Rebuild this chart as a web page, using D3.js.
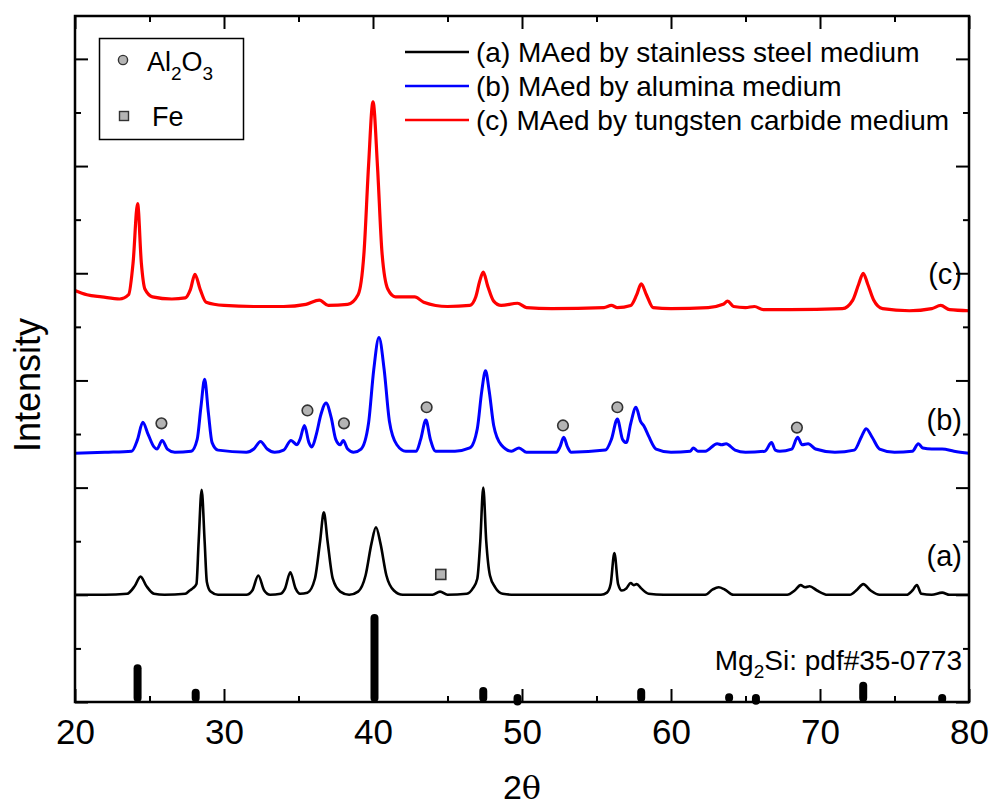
<!DOCTYPE html>
<html>
<head>
<meta charset="utf-8">
<script src="https://cdn.jsdelivr.net/npm/d3@7/dist/d3.min.js"></script>
<style>
  body { margin: 0; background: #fff; }
  text { font-family: "Liberation Sans", Arial, sans-serif; fill: #000; }
</style>
</head>
<body>
<svg id="chart" width="990" height="809"></svg>
<script>
// 2theta, intensity (arbitrary units, pattern offsets included)
var traceA = [[20,100],[22,100],[23.5,101],[24.0,108],[24.4,117],[24.8,108],[25.3,101],[26,100],[27.4,101],[27.7,104],[27.9,106],[28.15,110],[28.3,150],[28.5,198],[28.7,150],[28.85,112],[29.1,103],[29.6,100],[31.5,100],[31.9,104],[32.3,118],[32.7,104],[33.1,100],[33.8,101],[34.1,106],[34.45,121],[34.8,106],[35.1,101],[35.6,102],[36.1,115],[36.45,150],[36.7,177],[36.95,150],[37.3,115],[37.8,103],[38.4,100],[39.0,103],[39.5,118],[39.9,148],[40.2,163],[40.5,148],[40.9,118],[41.4,104],[42.0,100],[44.0,100],[44.5,103],[45.0,100],[46.3,101],[46.7,106],[47.0,115],[47.2,150],[47.4,200],[47.6,150],[47.85,118],[48.2,107],[48.7,101],[49.5,100],[55.3,100],[55.7,102],[55.95,110],[56.2,139],[56.45,110],[56.7,104],[57.0,106],[57.3,111],[57.5,109],[57.7,110],[58.0,106],[58.5,101],[59.5,100],[62.3,100],[62.8,105],[63.2,107],[63.6,105],[64.2,100],[67.8,100],[68.3,104],[68.7,109],[69.0,107],[69.3,108],[69.8,104],[70.5,100],[72.0,100],[72.5,105],[72.9,110],[73.4,104],[74.0,100],[75.8,100],[76.2,104],[76.5,109],[76.8,101],[77.5,100],[78.2,102],[78.7,100],[80,100]];

var traceB = [[20,232],[22,233],[23.8,234],[24.2,245],[24.55,261],[24.9,250],[25.3,238],[25.5,236],[25.85,244],[26.2,236],[26.7,233],[27.8,234],[28.2,245],[28.45,275],[28.7,301],[28.95,270],[29.2,242],[29.6,235],[31.5,233],[32.0,236],[32.45,243],[32.9,236],[33.4,233],[34.0,235],[34.5,244],[34.9,240],[35.1,245],[35.4,258],[35.7,242],[35.9,238],[36.2,250],[36.5,268],[36.85,279],[37.2,265],[37.5,245],[37.8,240],[38.0,244],[38.3,236],[38.7,233],[39.2,236],[39.7,260],[40.05,310],[40.4,340],[40.75,310],[41.1,262],[41.6,240],[42.2,234],[42.9,234],[43.2,245],[43.55,263],[43.85,245],[44.2,234],[45.5,234],[46.5,237],[47.0,255],[47.3,290],[47.55,309],[47.8,290],[48.1,258],[48.6,240],[49.3,234],[49.8,237],[50.3,233],[52.3,233],[52.55,238],[52.8,247],[53.05,238],[53.3,233],[55.6,235],[56.0,245],[56.4,264],[56.75,245],[57.0,242],[57.3,260],[57.65,275],[57.95,262],[58.2,257],[58.5,248],[59.0,236],[60.0,233],[61.3,234],[61.5,237],[61.8,234],[62.3,234],[63.1,241],[63.4,240],[63.7,241],[64.3,235],[65.0,233],[66.3,234],[66.75,242],[67.0,235],[67.3,234],[68.1,236],[68.5,247],[68.8,240],[69.2,241],[69.7,236],[71.0,233],[72.3,235],[72.8,248],[73.1,255],[73.5,247],[74.0,236],[75.0,233],[76.2,234],[76.6,241],[76.9,237],[77.5,236],[78.2,236],[79.0,234],[80,232]];

var traceC = [[20,384],[20.8,380],[21.8,378],[23.0,376],[23.6,380],[23.9,410],[24.2,465],[24.45,410],[24.7,385],[25.2,378],[26.5,376],[27.4,377],[27.75,385],[28.05,399],[28.4,385],[28.8,373],[30,370],[32,369],[34,369],[35.5,371],[36.4,375],[37.0,370],[38.3,371],[39.0,380],[39.4,420],[39.7,500],[40.0,560],[40.3,500],[40.6,420],[41.0,385],[41.5,378],[42.8,378],[43.4,373],[45.0,369],[46.5,370],[46.9,378],[47.15,392],[47.4,401],[47.7,388],[48.1,374],[48.6,370],[49.7,372],[50.3,368],[52,367],[55.5,368],[56.0,370],[56.4,368],[57.3,370],[57.7,380],[58.0,390],[58.35,380],[58.8,368],[60,367],[62.5,368],[63.5,371],[63.8,374],[64.2,369],[65.0,368],[65.6,369],[66.2,366],[68,366],[71.5,367],[72.2,375],[72.6,390],[72.9,400],[73.2,390],[73.6,375],[74.2,367],[76,365],[77.5,367],[78.1,370],[78.7,366],[80,365]];

// Mg2Si pdf#35-0773 reference lines: 2theta, relative intensity
var stickPos = [24.2, 28.1, 40.1, 47.4, 49.7, 58.0, 63.9, 65.7, 72.9, 78.2];
var stickRel = [43, 15, 100, 17, 5, 16, 10, 6, 23, 8];

// phase markers
var al2o3Marks = [[25.8,260],[35.6,272],[38.05,260],[43.6,275],[52.75,258],[56.4,275],[68.45,256]];
var feMarks = [[44.55,119]];

var xTicks = [20, 30, 40, 50, 60, 70, 80];
var seriesNames = ["(a) MAed by stainless steel medium", "(b) MAed by alumina medium", "(c) MAed by tungsten carbide medium"];
var seriesColors = ["#000000", "#0000ff", "#ff0000"];
var curveLabels = ["(a)", "(b)", "(c)"];
var curveLabelY = [566, 430, 284];

var svg = d3.select("#chart");
var pL = 75, pR = 969, pT = 16, pB = 702;

var x = d3.scaleLinear().domain([20, 80]).range([pL, pR]);
var y = d3.scaleLinear().domain([0, 640]).range([pB, pT]);
var yStick = d3.scaleLinear().domain([0, 100]).range([pB, pB - 88]);

var line = d3.line()
    .x(function (d) { return x(d[0]); })
    .y(function (d) { return y(d[1]); })
    .curve(d3.curveMonotoneX);

// sticks
svg.append("g").selectAll("line")
    .data(stickPos)
    .enter().append("line")
    .attr("x1", function (d) { return x(d); })
    .attr("x2", function (d) { return x(d); })
    .attr("y1", pB - 4)
    .attr("y2", function (d, i) { return yStick(stickRel[i]) + 4; })
    .attr("stroke", "#000")
    .attr("stroke-width", 8)
    .attr("stroke-linecap", "round");

// traces
var traces = [traceA, traceB, traceC];
var widths = [2.6, 3, 3.2];
svg.append("g").selectAll("path")
    .data(traces)
    .enter().append("path")
    .attr("d", line)
    .attr("fill", "none")
    .attr("stroke", function (d, i) { return seriesColors[i]; })
    .attr("stroke-width", function (d, i) { return widths[i]; })
    .attr("stroke-linejoin", "round");

// markers
svg.append("g").selectAll("circle")
    .data(al2o3Marks)
    .enter().append("circle")
    .attr("cx", function (d) { return x(d[0]); })
    .attr("cy", function (d) { return y(d[1]); })
    .attr("r", 5.3)
    .attr("fill", "#b4b4b4")
    .attr("stroke", "#333")
    .attr("stroke-width", 1.6);

svg.append("g").selectAll("rect")
    .data(feMarks)
    .enter().append("rect")
    .attr("x", function (d) { return x(d[0]) - 5; })
    .attr("y", function (d) { return y(d[1]) - 5; })
    .attr("width", 10)
    .attr("height", 10)
    .attr("fill", "#b4b4b4")
    .attr("stroke", "#333")
    .attr("stroke-width", 1.6);

// axes
var tickLen = 13, minorLen = 6;
var xMinor = d3.range(25, 80, 10);
var gx = svg.append("g").attr("transform", "translate(0," + pB + ")")
    .call(d3.axisBottom(x).tickValues(xTicks).tickSizeInner(-tickLen).tickSizeOuter(0).tickPadding(17).tickFormat(d3.format("d")));
svg.append("g").attr("transform", "translate(0," + pB + ")")
    .call(d3.axisBottom(x).tickValues(xMinor).tickSizeInner(-minorLen).tickSizeOuter(0).tickFormat(""));
svg.append("g").attr("transform", "translate(0," + pT + ")")
    .call(d3.axisTop(x).tickValues(xTicks).tickSizeInner(-tickLen).tickSizeOuter(0).tickFormat(""));
svg.append("g").attr("transform", "translate(0," + pT + ")")
    .call(d3.axisTop(x).tickValues(xMinor).tickSizeInner(-minorLen).tickSizeOuter(0).tickFormat(""));

var yMajor = d3.range(0, 641, 100), yMinor = d3.range(50, 641, 100);
svg.append("g").attr("transform", "translate(" + pL + ",0)")
    .call(d3.axisLeft(y).tickValues(yMajor).tickSizeInner(-tickLen).tickSizeOuter(0).tickFormat(""));
svg.append("g").attr("transform", "translate(" + pL + ",0)")
    .call(d3.axisLeft(y).tickValues(yMinor).tickSizeInner(-minorLen).tickSizeOuter(0).tickFormat(""));
svg.append("g").attr("transform", "translate(" + pR + ",0)")
    .call(d3.axisRight(y).tickValues(yMajor).tickSizeInner(-tickLen).tickSizeOuter(0).tickFormat(""));
svg.append("g").attr("transform", "translate(" + pR + ",0)")
    .call(d3.axisRight(y).tickValues(yMinor).tickSizeInner(-minorLen).tickSizeOuter(0).tickFormat(""));

svg.selectAll(".domain").remove();
svg.selectAll(".tick line").attr("stroke", "#000").attr("stroke-width", 2);
gx.selectAll("text").attr("font-size", 35).attr("font-family", "Liberation Sans").attr("fill", "#000");

svg.append("rect")
    .attr("x", pL).attr("y", pT)
    .attr("width", pR - pL).attr("height", pB - pT)
    .attr("fill", "none").attr("stroke", "#000").attr("stroke-width", 2.5);

// axis titles
svg.append("text")
    .attr("transform", "translate(40," + 385 + ") rotate(-90)")
    .attr("text-anchor", "middle")
    .attr("font-size", 36)
    .text("Intensity");

var xt = svg.append("text")
    .attr("x", (pL + pR) / 2)
    .attr("y", 799)
    .attr("text-anchor", "middle")
    .attr("font-size", 34);
xt.append("tspan").text("2");
xt.append("tspan").attr("font-family", "DejaVu Serif").attr("font-size", 32).text("θ");

// curve labels
svg.selectAll(".clab")
    .data(curveLabels)
    .enter().append("text")
    .attr("class", "clab")
    .attr("x", 962)
    .attr("y", function (d, i) { return curveLabelY[i]; })
    .attr("text-anchor", "end")
    .attr("font-size", 29)
    .text(function (d) { return d; });

// Mg2Si label
var mg = svg.append("text").attr("x", 962).attr("y", 670).attr("text-anchor", "end").attr("font-size", 28);
mg.append("tspan").text("Mg");
mg.append("tspan").attr("font-size", 19).attr("dy", 8).text("2");
mg.append("tspan").attr("dy", -8).text("Si: pdf#35-0773");

// marker legend
svg.append("rect").attr("x", 99.5).attr("y", 38.5).attr("width", 144).attr("height", 101)
    .attr("fill", "#fff").attr("stroke", "#000").attr("stroke-width", 1.5);
svg.append("circle").attr("cx", 123).attr("cy", 60).attr("r", 4.6)
    .attr("fill", "#b4b4b4").attr("stroke", "#333").attr("stroke-width", 1.4);
svg.append("rect").attr("x", 119.5).attr("y", 111.5).attr("width", 9).attr("height", 9)
    .attr("fill", "#b4b4b4").attr("stroke", "#333").attr("stroke-width", 1.4);
var al = svg.append("text").attr("x", 147).attr("y", 71).attr("font-size", 27);
al.append("tspan").text("Al");
al.append("tspan").attr("font-size", 19).attr("dy", 9).text("2");
al.append("tspan").attr("dy", -9).text("O");
al.append("tspan").attr("font-size", 19).attr("dy", 9).text("3");
svg.append("text").attr("x", 152).attr("y", 126).attr("font-size", 27).text("Fe");

// series legend
var leg = svg.append("g").selectAll("g")
    .data(seriesNames)
    .enter().append("g")
    .attr("transform", function (d, i) { return "translate(405," + (52 + i * 34) + ")"; });
leg.append("line")
    .attr("x1", 0).attr("x2", 64)
    .attr("stroke", function (d, i) { return seriesColors[i]; })
    .attr("stroke-width", 2.4);
leg.append("text")
    .attr("x", 71).attr("y", 10)
    .attr("font-size", 28)
    .text(function (d) { return d; });
</script>
</body>
</html>
